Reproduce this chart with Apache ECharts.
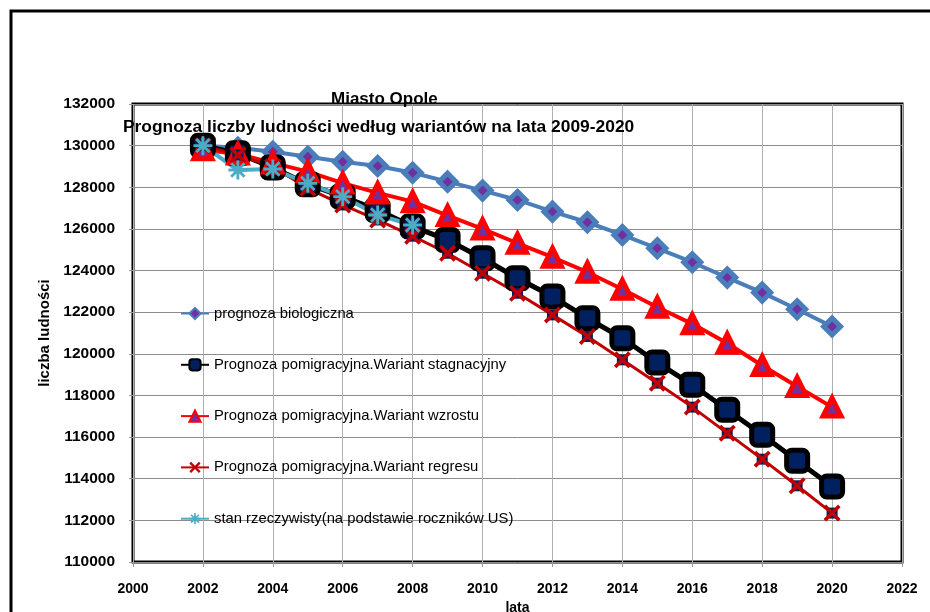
<!DOCTYPE html>
<html>
<head>
<meta charset="utf-8">
<script src="https://cdn.jsdelivr.net/npm/echarts@6/dist/echarts.min.js"></script>
<style>
  html, body { margin: 0; padding: 0; background: #fff; }
  #chart { width: 930px; height: 612px; }
</style>
</head>
<body>
<div id="chart"></div>
<script>
// lata
var years = [2002, 2003, 2004, 2005, 2006, 2007, 2008, 2009, 2010, 2011,
             2012, 2013, 2014, 2015, 2016, 2017, 2018, 2019, 2020];
var yearsReal = [2002, 2003, 2004, 2005, 2006, 2007, 2008];

var biologiczna = [130000, 129900, 129710, 129470, 129230, 129020, 128700, 128270, 127840, 127390,
                   126830, 126320, 125710, 125070, 124400, 123660, 122940, 122140, 121310];
var stagnacyjny = [130000, 129630, 128950, 128150, 127550, 126910, 126110, 125470, 124590, 123630,
                   122750, 121710, 120750, 119580, 118510, 117310, 116110, 114860, 113630];
var wzrostu = [129800, 129600, 129170, 128750, 128200, 127730, 127310, 126640, 126000, 125310,
               124640, 123920, 123100, 122240, 121440, 120510, 119440, 118430, 117440];
var regresu = [130000, 129550, 128990, 127950, 127150, 126430, 125650, 124830, 123870, 122910,
               121870, 120830, 119710, 118590, 117440, 116190, 114940, 113660, 112350];
var rzeczywisty = [130000, 128830, 128880, 128190, 127550, 126670, 126190];

var seriesNames = [
    'prognoza biologiczna',
    'Prognoza pomigracyjna.Wariant stagnacyjny',
    'Prognoza pomigracyjna.Wariant wzrostu',
    'Prognoza pomigracyjna.Wariant regresu',
    'stan rzeczywisty(na podstawie roczników US)'
];

var xTicks = { min: 2000, max: 2022, step: 2 };
var yTicks = { min: 110000, max: 132000, step: 2000 };

function pairs(xs, ys) {
    return xs.map(function (x, i) { return [x, ys[i]]; });
}

var font = 'Liberation Sans, Arial, sans-serif';
var crossPath = 'path://M0,3 L3,0 L10,7 L17,0 L20,3 L13,10 L20,17 L17,20 L10,13 L3,20 L0,17 L7,10 Z';
var starPath = 'path://M8.5,0 L11.5,0 L11.5,6.4 L16,1.9 L18.1,4 L13.6,8.5 L20,8.5 L20,11.5 L13.6,11.5 L18.1,16 L16,18.1 L11.5,13.6 L11.5,20 L8.5,20 L8.5,13.6 L4,18.1 L1.9,16 L6.4,11.5 L0,11.5 L0,8.5 L6.4,8.5 L1.9,4 L4,1.9 L8.5,6.4 Z';

var myChart = echarts.init(document.getElementById('chart'));

var option = {
    backgroundColor: '#fff',
    animation: false,
    title: [
        {
            text: 'Miasto Opole',
            left: 326, top: 86,
            textStyle: { fontFamily: font, fontSize: 17, fontWeight: 'bold', color: '#000' }
        },
        {
            text: 'Prognoza liczby ludności według wariantów na lata 2009-2020',
            left: 118, top: 114,
            textStyle: { fontFamily: font, fontSize: 17.4, fontWeight: 'bold', color: '#000' }
        }
    ],
    graphic: [
        {
            type: 'rect',
            shape: { x: 11, y: 11, width: 960, height: 640 },
            style: { fill: 'none', stroke: '#000', lineWidth: 3 },
            silent: true
        }
    ],
    legend: {
        orient: 'vertical',
        left: 175,
        top: 301,
        itemWidth: 28,
        itemHeight: 14,
        itemGap: 36.3,
        data: seriesNames,
        textStyle: { fontFamily: font, fontSize: 14.8, color: '#000' }
    },
    grid: {
        left: 133,
        right: 28,
        top: 104,
        bottom: 50,
        show: true,
        borderColor: '#000',
        borderWidth: 3,
        containLabel: false,
        outerBoundsMode: 'none'
    },
    xAxis: {
        type: 'value',
        min: xTicks.min,
        max: xTicks.max,
        interval: xTicks.step,
        name: 'lata',
        nameLocation: 'middle',
        nameGap: 29,
        nameTextStyle: { fontFamily: font, fontSize: 14, fontWeight: 'bold', color: '#000' },
        axisLine: { show: false },
        axisTick: { show: true, length: 5, lineStyle: { color: '#999' } },
        axisLabel: {
            margin: 20,
            fontFamily: font, fontSize: 14, fontWeight: 'bold', color: '#000',
            formatter: function (v) { return String(v); }
        },
        splitLine: { show: true, lineStyle: { color: '#b0b0b0', width: 1 } }
    },
    yAxis: {
        type: 'value',
        min: yTicks.min,
        max: yTicks.max,
        interval: yTicks.step,
        name: 'liczba ludności',
        nameLocation: 'middle',
        nameGap: 80,
        nameTextStyle: { fontFamily: font, fontSize: 15, fontWeight: 'bold', color: '#000' },
        axisLine: { show: false },
        axisTick: { show: true, length: 4, lineStyle: { color: '#999' } },
        axisLabel: {
            margin: 18,
            fontFamily: font, fontSize: 15.5, fontWeight: 'bold', color: '#000',
            formatter: function (v) { return String(v); }
        },
        splitLine: { show: true, lineStyle: { color: '#8c8c8c', width: 1 } }
    },
    series: [
        {
            name: seriesNames[0],
            type: 'line',
            data: pairs(years, biologiczna),
            symbol: 'diamond',
            symbolSize: 17,
            lineStyle: { color: '#4a7ebb', width: 4 },
            itemStyle: { color: '#7030a0', borderColor: '#4a7ebb', borderWidth: 5 }
        },
        {
            name: seriesNames[1],
            type: 'line',
            data: pairs(years, stagnacyjny),
            symbol: 'roundRect',
            symbolSize: 21,
            lineStyle: { color: '#000', width: 5 },
            itemStyle: { color: '#002060', borderColor: '#000', borderWidth: 5 }
        },
        {
            name: seriesNames[2],
            type: 'line',
            data: pairs(years, wzrostu),
            symbol: 'triangle',
            symbolSize: 18,
            lineStyle: { color: '#ff0000', width: 4 },
            itemStyle: { color: '#7030a0', borderColor: '#ff0000', borderWidth: 5 }
        },
        {
            name: seriesNames[3] + ' ',
            type: 'line',
            data: pairs(years, regresu),
            symbol: 'rect',
            symbolSize: 11,
            lineStyle: { width: 0, opacity: 0 },
            itemStyle: { color: '#002060' },
            silent: true
        },
        {
            name: seriesNames[3],
            type: 'line',
            data: pairs(years, regresu),
            symbol: crossPath,
            symbolSize: 17,
            lineStyle: { color: '#c00000', width: 3 },
            itemStyle: { color: '#c00000' }
        },
        {
            name: seriesNames[4],
            type: 'line',
            data: pairs(yearsReal, rzeczywisty),
            symbol: starPath,
            symbolSize: 19,
            lineStyle: { color: '#4bacc6', width: 4 },
            itemStyle: { color: '#4bacc6' }
        }
    ]
};

myChart.setOption(option);
</script>
</body>
</html>
